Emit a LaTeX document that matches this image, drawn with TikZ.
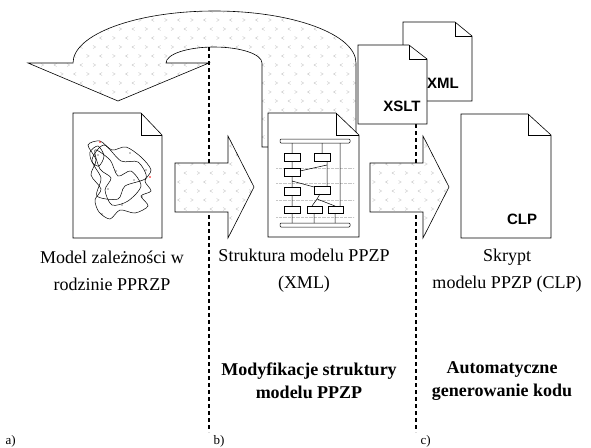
\documentclass[tikz,border=0pt]{standalone}
\usepackage{fontspec}
\setmainfont{Liberation Serif}
\setsansfont{Liberation Sans}
\usetikzlibrary{patterns}

% light chevron texture used inside the block arrows
\pgfdeclarepatternformonly{chevrons}{\pgfpoint{-1pt}{-1pt}}{\pgfpoint{27pt}{19pt}}{\pgfpoint{26pt}{18pt}}{
  \pgfsetlinewidth{0.4pt}
  \pgfpathmoveto{\pgfpoint{4.6pt}{2.5pt}}\pgfpathlineto{\pgfpoint{2pt}{4pt}}\pgfpathlineto{\pgfpoint{4.6pt}{5.5pt}}
  \pgfpathmoveto{\pgfpoint{15pt}{2.5pt}}\pgfpathlineto{\pgfpoint{17.6pt}{4pt}}\pgfpathlineto{\pgfpoint{15pt}{5.5pt}}
  \pgfpathmoveto{\pgfpoint{8.5pt}{11.5pt}}\pgfpathlineto{\pgfpoint{11.1pt}{13pt}}\pgfpathlineto{\pgfpoint{8.5pt}{14.5pt}}
  \pgfpathmoveto{\pgfpoint{24.1pt}{11.5pt}}\pgfpathlineto{\pgfpoint{21.5pt}{13pt}}\pgfpathlineto{\pgfpoint{24.1pt}{14.5pt}}
  \pgfusepath{stroke}
}

\begin{document}
\begin{tikzpicture}[x=1pt,y=-1pt,
  blockarrow/.style={draw=black, line width=0.6pt, preaction={fill=white}, pattern=chevrons, pattern color=gray!45},
  page/.style={draw=black, line width=0.6pt, fill=white},
  sep/.style={line width=1.1pt, dash pattern=on 4pt off 3pt},
  tag/.style={font=\sffamily\bfseries\fontsize{15}{15}\selectfont},
  caption/.style={align=center, font=\fontsize{18}{27}\selectfont},
  title/.style={align=center, font=\bfseries\fontsize{18}{23}\selectfont},
  part/.style={anchor=west, font=\fontsize{13}{13}\selectfont},
  box/.style={draw, line width=0.5pt}]
\useasboundingbox (0,0) rectangle (591,447);

% return arrow (b) -> (a)
\draw[blockarrow] (118,101) -- (28,63) -- (73,63)
  arc[start angle=180, end angle=360, x radius=141.5, y radius=52]
  -- (356,147) -- (262,147) -- (262,63)
  arc[start angle=0, end angle=-180, x radius=48, y radius=16]
  -- (209,63) -- cycle;

% separators
\draw[sep] (209,47) -- (209,432);
\draw[sep] (416,124) -- (416,432);

% forward arrows
\draw[blockarrow] (175,163) -- (228,163) -- (228,136) -- (254,187) -- (228,238) -- (228,212) -- (175,212) -- cycle;
\draw[blockarrow] (370,163) -- (423,163) -- (423,136) -- (449,187) -- (423,238) -- (423,212) -- (370,212) -- cycle;

% documents
\draw[page] (403,22) -- (455,22) -- (472,36) -- (472,101) -- (403,101) -- cycle;
\draw (455,22) -- (455,36) -- (472,36);
\node[tag] (xml) at (443,83) {XML};

\draw[page] (358,45) -- (409,45) -- (427,59) -- (427,124) -- (358,124) -- cycle;
\draw (409,45) -- (409,59) -- (427,59);
\node[tag] (xslt) at (402,106) {XSLT};

\draw[page] (73,113) -- (141,113) -- (162,135) -- (162,238) -- (73,238) -- cycle;
\draw (141,113) -- (141,135) -- (162,135);

\draw[page] (268,113) -- (336,113) -- (359,135) -- (359,237) -- (268,237) -- cycle;
\draw (336,113) -- (336,135) -- (359,135);

\draw[page] (461,114) -- (528,114) -- (551,135) -- (551,238) -- (461,238) -- cycle;
\draw (528,114) -- (528,135) -- (551,135);
\node[tag] (clp) at (522,219) {CLP};

% tangle of dependencies
\draw[line width=0.5pt] plot[smooth cycle] coordinates {(88,145) (100,141) (112,150) (126,147) (141,157) (151,170) (145,181) (151,191) (141,196) (148,206) (135,213) (120,210) (110,219) (99,212) (95,200) (101,189) (91,175) (96,160)};
\draw[line width=0.5pt] plot[smooth cycle] coordinates {(95,150) (110,160) (118,176) (131,171) (141,186) (128,201) (112,205) (105,190) (111,178) (100,169)};
\draw[line width=0.5pt] plot[smooth cycle] coordinates {(104,145) (121,161) (138,162) (146,178) (125,186) (118,199) (97,196) (101,178) (92,160)};
\draw[line width=0.5pt] plot[smooth cycle] coordinates {(90,152) (98,146) (104,156) (99,166) (92,162)};
\foreach \p in {(98,155),(130,153),(116,171),(134,180),(108,189),(142,197),(122,205),(102,214),(146,170)}
  \fill \p circle (0.7);
\fill[red] (100,142) circle (0.8);
\fill[red] (150,177) circle (0.8);

% structure of the model
\foreach \y in {168,183,200,217}
  \draw[gray!45, densely dotted, line width=0.3pt] (276,\y) -- (354,\y);
\draw[box, rounded corners=1pt] (280,139) rectangle (350,143);
\draw[box, rounded corners=1pt] (280,223) rectangle (350,227);
\draw[box] (284,153) rectangle (300,161);
\draw[box] (314,153) rectangle (330,161);
\draw[box] (284,168) rectangle (300,176);
\draw[box] (284,187) rectangle (300,195);
\draw[box] (314,186) rectangle (330,194);
\draw[box] (284,206) rectangle (300,213);
\draw[box] (307,206) rectangle (322,213);
\draw[box] (328,206) rectangle (343,213);
\draw[line width=0.5pt] (292,143) -- (292,153) (322,143) -- (322,153) (340,143) -- (340,206)
  (292,161) -- (292,168) (300,171) -- (327,165) (327,161) -- (327,186)
  (292,176) -- (292,187) (292,181) -- (314,187) (292,195) -- (292,206)
  (320,194) -- (317,199) -- (312,206) (317,199) -- (335,206)
  (292,213) -- (292,223) (314,213) -- (314,223) (335,213) -- (335,223);

% captions
\node[caption] (capa) at (112,271) {Model zależności w\\rodzinie PPRZP};
\node[caption] (capb) at (304,271) {Struktura modelu PPZP\\(XML)};
\node[caption] (capc) at (507,271) {Skrypt\\modelu PPZP (CLP)};
\node[title] (stepb) at (309,381) {Modyfikacje struktury\\modelu PPZP};
\node[title] (stepc) at (502,381) {Automatyczne\\generowanie kodu};
\node[part] (pa) at (2,441) {a)};
\node[part] (pb) at (210,441) {b)};
\node[part] (pc) at (417,441) {c)};
\end{tikzpicture}
\end{document}
